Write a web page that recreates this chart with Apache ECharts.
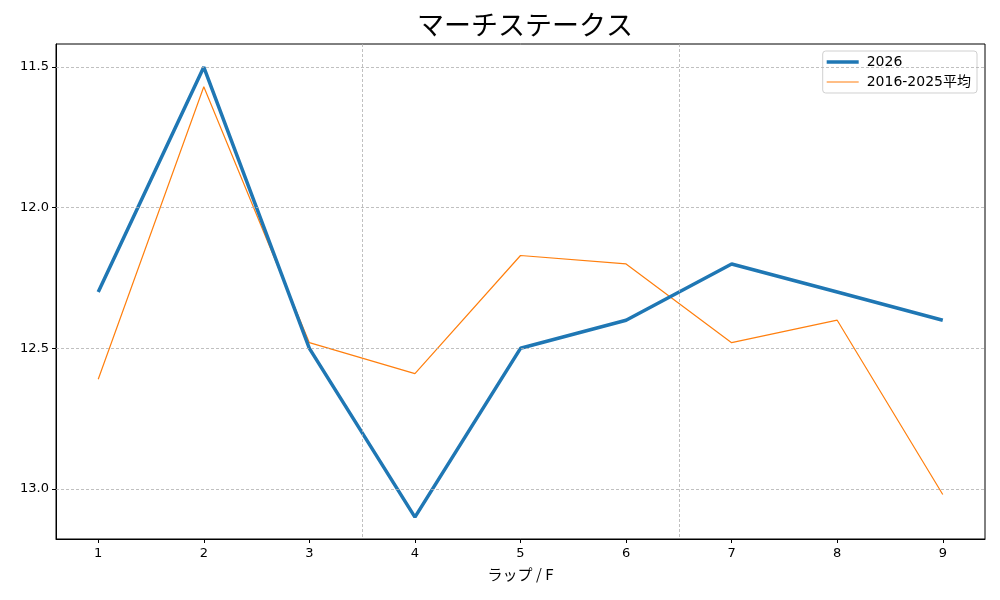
<!DOCTYPE html>
<html>
<head>
<meta charset="utf-8">
<script src="https://cdn.jsdelivr.net/npm/echarts@6/dist/echarts.min.js"></script>
<style>html,body{margin:0;padding:0;background:#fff}#c{width:1000px;height:600px}</style>
</head>
<body>
<div id="c"></div>
<script>
const laps = [1, 2, 3, 4, 5, 6, 7, 8, 9];
const series2026 = [12.3, 11.5, 12.5, 13.1, 12.5, 12.4, 12.2, 12.3, 12.4];
const seriesAvg = [12.61, 11.57, 12.48, 12.59, 12.17, 12.2, 12.48, 12.4, 13.02];
const yTicks = [11.5, 12.0, 12.5, 13.0];
const xGridLines = [3.5, 6.5];

const FONT = '"DejaVu Sans", "Noto Sans CJK JP", sans-serif';
const chart = echarts.init(document.getElementById('c'));
const gridStyle = { color: '#b0b0b0', width: 0.8, type: [3, 2] };

chart.setOption({
  animation: false,
  backgroundColor: '#fff',
  textStyle: { fontFamily: FONT },
  title: {
    text: 'マーチステークス', left: 520, textAlign: 'center', top: 6,
    textStyle: { fontFamily: '"Noto Sans CJK JP", sans-serif', fontSize: 27, fontWeight: 'normal', color: '#000' }
  },
  legend: {
    data: [
      { name: '2026', icon: 'path://M0,0H32V3.5H0Z' },
      { name: '2016-2025平均', icon: 'path://M0,0H32V1.1H0Z' }
    ],
    symbolKeepAspect: true,
    right: 23, top: 51, orient: 'vertical',
    itemWidth: 32, itemHeight: 14, itemGap: 6,
    backgroundColor: '#fff', borderColor: '#d0d0d0', borderWidth: 1, borderRadius: 3,
    padding: [4, 6, 4, 4],
    textStyle: { fontFamily: FONT, fontSize: 14, color: '#000', padding: [0, 0, 0, 3] }
  },
  grid: { left: 56, right: 15, top: 44, bottom: 61, show: true, borderColor: '#000', borderWidth: 1 },
  xAxis: {
    type: 'value', min: 0.6, max: 9.4,
    name: 'ラップ / F', nameLocation: 'middle', nameGap: 28,
    nameTextStyle: { fontFamily: '"Noto Sans CJK JP", sans-serif', fontSize: 15, color: '#000' },
    axisLine: { show: true, lineStyle: { color: '#000' } },
    axisTick: { show: true, length: 4, lineStyle: { color: '#000' }, customValues: laps },
    axisLabel: { color: '#000', fontSize: 13, margin: 8, customValues: laps, formatter: v => String(v) },
    splitLine: { show: false }
  },
  yAxis: {
    type: 'value', inverse: true, min: 11.418, max: 13.178,
    axisLine: { show: true, lineStyle: { color: '#000' } },
    axisTick: { show: true, length: 4, lineStyle: { color: '#000' }, customValues: yTicks },
    axisLabel: { color: '#000', fontSize: 13, margin: 7, customValues: yTicks, formatter: v => v.toFixed(1) },
    splitLine: { show: false }
  },
  series: [
    {
      name: 'grid', type: 'line', data: [], z: 1, silent: true,
      markLine: {
        silent: true, symbol: 'none', label: { show: false }, animation: false,
        lineStyle: gridStyle,
        data: xGridLines.map(x => ({ xAxis: x })).concat(yTicks.map(y => ({ yAxis: y })))
      }
    },
    {
      name: '2026', type: 'line', z: 3, symbol: 'none',
      data: laps.map((x, i) => [x, series2026[i]]),
      lineStyle: { color: '#1f77b4', width: 3.5 }, itemStyle: { color: '#1f77b4' }
    },
    {
      name: '2016-2025平均', type: 'line', z: 2, symbol: 'none',
      data: laps.map((x, i) => [x, seriesAvg[i]]),
      lineStyle: { color: '#ff7f0e', width: 1.2 }, itemStyle: { color: '#ff7f0e' }
    }
  ]
});
</script>
</body>
</html>
